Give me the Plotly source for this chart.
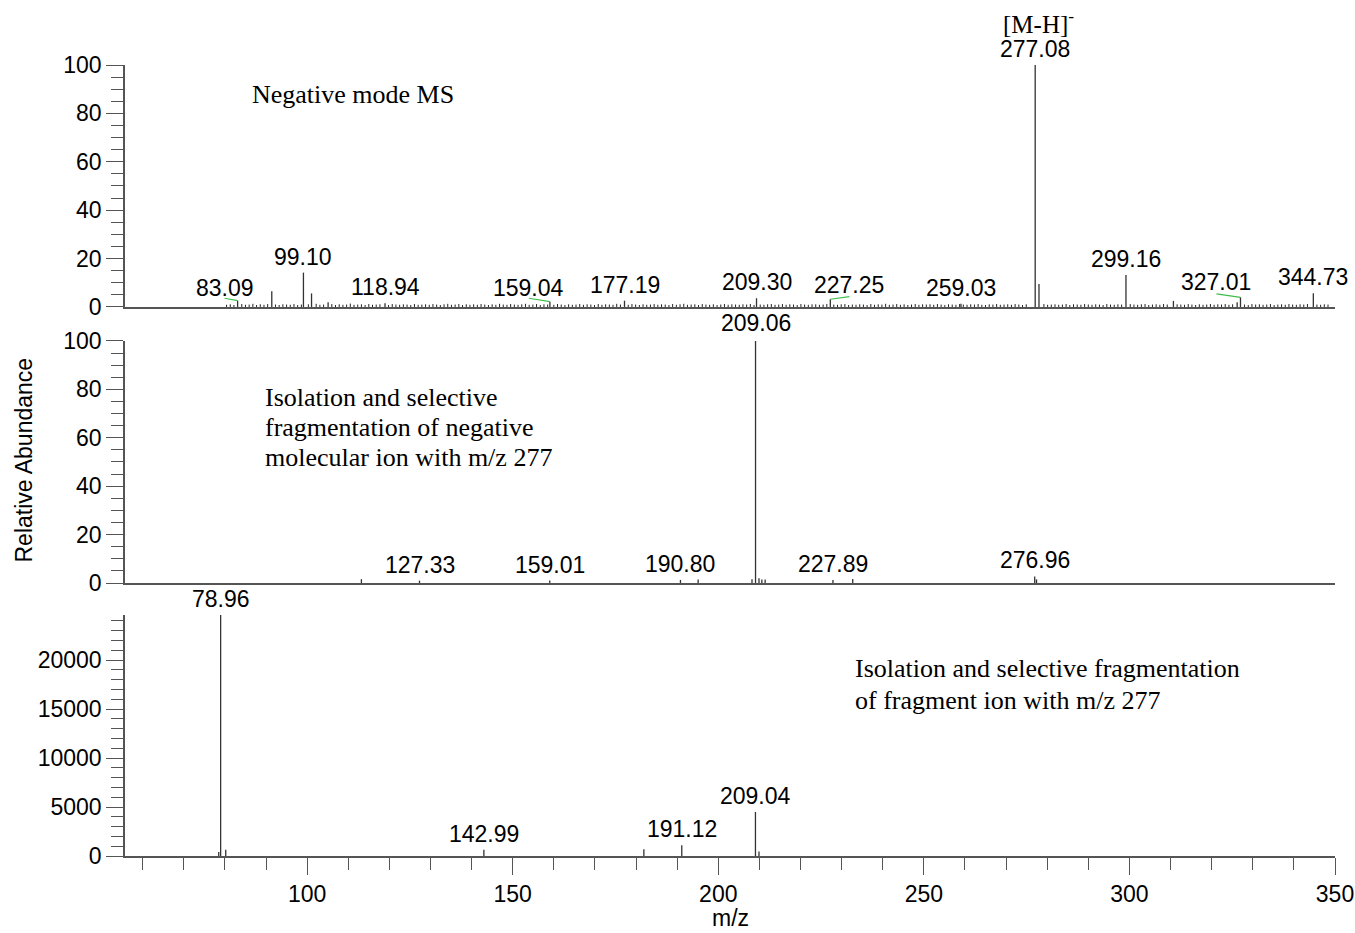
import plotly.graph_objects as go

# ---------------- data ----------------
# Full-scan negative mode spectrum: resolved peaks (m/z, relative abundance)
ms1_mz = [83.09, 91.4, 99.10, 101.07, 105.1, 118.94, 159.04, 177.19, 209.30,
          227.25, 259.03, 277.08, 278.0, 299.16, 310.7, 326.2, 327.01, 344.73]
ms1_int = [2.6, 6.5, 14.2, 5.6, 2.0, 1.5, 2.2, 2.6, 3.6,
           3.2, 1.3, 100.0, 9.5, 13.2, 2.5, 2.0, 4.0, 5.7]
ms1_labeled = [83.09, 99.10, 118.94, 159.04, 177.19, 209.30, 227.25,
               259.03, 277.08, 299.16, 327.01, 344.73]

# Full-scan baseline noise peaks
noise_mz = [
    80.4, 81.3, 82.2, 84.1, 85.0, 85.9, 86.8, 87.7, 88.6, 89.5,
    90.4, 92.3, 93.2, 94.1, 95.0, 95.9, 96.8, 97.7, 98.6, 100.3,
    102.2, 103.1, 104.0, 106.0, 106.9, 107.8, 108.7, 109.6, 110.5, 111.4,
    112.3, 113.2, 114.1, 115.0, 115.9, 116.8, 117.7, 119.8, 120.7, 121.6,
    122.5, 123.4, 124.3, 125.2, 126.1, 127.0, 127.9, 128.8, 129.7, 130.6,
    131.5, 132.4, 133.3, 134.2, 135.1, 136.0, 136.9, 137.8, 138.7, 139.6,
    140.5, 141.4, 142.3, 143.2, 144.1, 145.0, 145.9, 146.8, 147.7, 148.6,
    149.5, 150.4, 151.3, 152.2, 153.1, 154.0, 154.9, 155.8, 156.7, 157.6,
    158.5, 160.0, 160.9, 161.8, 162.7, 163.6, 164.5, 165.4, 166.3, 167.2,
    168.1, 169.0, 169.9, 170.8, 171.7, 172.6, 173.5, 174.4, 175.3, 176.2,
    178.1, 179.0, 179.9, 180.8, 181.7, 182.6, 183.5, 184.4, 185.3, 186.2,
    187.1, 188.0, 188.9, 189.8, 190.7, 191.6, 192.5, 193.4, 194.3, 195.2,
    196.1, 197.0, 197.9, 198.8, 199.7, 200.6, 201.5, 202.4, 203.3, 204.2,
    205.1, 206.0, 206.9, 207.8, 208.7, 210.2, 211.1, 212.0, 212.9, 213.8,
    214.7, 215.6, 216.5, 217.4, 218.3, 219.2, 220.1, 221.0, 221.9, 222.8,
    223.7, 224.6, 225.5, 226.4, 228.1, 229.0, 229.9, 230.8, 231.7, 232.6,
    233.5, 234.4, 235.3, 236.2, 237.1, 238.0, 238.9, 239.8, 240.7, 241.6,
    242.5, 243.4, 244.3, 245.2, 246.1, 247.0, 247.9, 248.8, 249.7, 250.6,
    251.5, 252.4, 253.3, 254.2, 255.1, 256.0, 256.9, 257.8, 258.7, 259.6,
    260.5, 261.4, 262.3, 263.2, 264.1, 265.0, 265.9, 266.8, 267.7, 268.6,
    269.5, 270.4, 271.3, 272.2, 273.1, 274.0, 274.9, 279.2, 280.1, 281.0,
    281.9, 282.8, 283.7, 284.6, 285.5, 286.4, 287.3, 288.2, 289.1, 290.0,
    290.9, 291.8, 292.7, 293.6, 294.5, 295.4, 296.3, 297.2, 298.1, 300.2,
    301.1, 302.0, 302.9, 303.8, 304.7, 305.6, 306.5, 307.4, 308.3, 309.2,
    311.6, 312.5, 313.4, 314.3, 315.2, 316.1, 317.0, 317.9, 318.8, 319.7,
    320.6, 321.5, 322.4, 323.3, 324.2, 325.1, 328.0, 328.9, 329.8, 330.7,
    331.6, 332.5, 333.4, 334.3, 335.2, 336.1, 337.0, 337.9, 338.8, 339.7,
    340.6, 341.5, 342.4, 343.3, 345.6, 346.5, 347.4, 348.3,
]
noise_int = [
    0.9, 1.1, 0.8, 1.2, 0.9, 1.0, 1.3, 0.8, 1.1, 0.9,
    1.2, 1.0, 0.8, 1.1, 1.0, 0.9, 1.2, 0.8, 1.0, 1.1,
    1.3, 0.9, 1.0, 1.2, 0.8, 1.1, 0.9, 1.0, 1.4, 0.9,
    1.0, 1.1, 0.8, 1.2, 0.9, 1.0, 1.1, 0.8, 1.2, 1.0,
    0.9, 1.1, 1.0, 0.8, 1.2, 0.9, 1.0, 1.1, 0.9, 1.2,
    1.0, 0.8, 1.1, 1.3, 0.9, 1.0, 1.2, 0.8, 1.1, 0.9,
    1.1, 0.9, 1.2, 1.0, 0.8, 1.1, 0.9, 1.3, 1.0, 0.9,
    1.2, 1.0, 0.9, 1.1, 1.3, 0.9, 1.0, 1.2, 0.8, 1.1,
    1.0, 0.9, 1.2, 1.0, 0.8, 1.1, 0.9, 1.0, 1.2, 0.9,
    1.1, 1.0, 0.8, 1.2, 0.9, 1.1, 1.0, 0.9, 1.3, 1.0,
    0.9, 1.2, 1.0, 0.8, 1.1, 0.9, 1.0, 1.2, 0.9, 1.1,
    1.0, 0.8, 1.2, 0.9, 1.1, 1.3, 0.9, 1.0, 1.1, 0.8,
    1.2, 1.0, 0.9, 1.1, 0.8, 1.0, 1.2, 0.9, 1.1, 1.0,
    0.9, 1.1, 1.0, 1.2, 0.8, 1.0, 0.9, 1.1, 1.2, 0.9,
    1.0, 1.2, 0.9, 1.1, 1.0, 0.8, 1.2, 1.0, 0.9, 1.1,
    1.1, 0.9, 1.0, 1.2, 1.0, 0.9, 1.1, 1.2, 0.8, 1.0,
    0.9, 1.1, 1.0, 0.8, 1.2, 0.9, 1.1, 1.0, 1.3, 0.9,
    1.0, 1.2, 0.9, 1.1, 0.8, 1.0, 1.2, 0.9, 1.1, 1.0,
    1.1, 0.9, 1.2, 1.0, 0.8, 1.1, 1.0, 0.9, 1.2, 1.0,
    0.9, 1.1, 1.0, 1.2, 0.9, 0.8, 1.1, 1.0, 1.2, 0.9,
    1.0, 1.1, 0.9, 1.2, 1.0, 0.8, 1.1, 1.2, 0.9, 1.0,
    1.1, 0.9, 1.0, 1.2, 0.8, 1.1, 1.0, 0.9, 1.2, 1.0,
    0.9, 1.1, 1.0, 0.8, 1.2, 1.0, 0.9, 1.1, 1.0, 1.2,
    1.0, 0.9, 1.1, 1.2, 0.8, 1.0, 1.1, 0.9, 1.2, 1.0,
    1.1, 1.0, 0.9, 1.2, 1.0, 0.8, 1.1, 0.9, 1.0, 1.2,
    0.9, 1.1, 1.0, 1.2, 0.9, 1.1, 1.0, 0.8, 1.2, 1.0,
    1.1, 0.9, 1.0, 1.2, 0.8, 1.0, 1.1, 0.9, 1.2, 1.0,
    0.9, 1.1, 1.0, 1.2, 1.0, 0.9, 1.1, 1.0,
]

# MS2 of m/z 277
ms2_mz = [113.2, 127.33, 159.01, 190.80, 195.1, 208.2, 209.06, 209.9,
          210.6, 211.4, 227.89, 232.7, 276.96, 277.4]
ms2_int = [1.6, 1.0, 1.0, 1.3, 1.5, 1.6, 100.0, 2.0,
           1.5, 1.5, 1.2, 1.7, 2.7, 1.5]
ms2_labeled = [127.33, 159.01, 190.80, 209.06, 227.89, 276.96]

# MS3 of fragment ion (absolute intensity)
ms3_mz = [78.5, 78.96, 80.2, 142.99, 181.9, 191.12, 209.04, 209.9]
ms3_int = [400, 24600, 650, 650, 700, 1100, 4500, 450]
ms3_labeled = [78.96, 142.99, 191.12, 209.04]

x_ticks = [100, 150, 200, 250, 300, 350]
rel_ticks = [0, 20, 40, 60, 80, 100]
abs_ticks = [0, 5000, 10000, 15000, 20000]

# ---------------- layout constants ----------------
W, H = 1355, 933
M_L, M_R, M_T, M_B = 125, 20, 65, 77
X_RANGE = [55.7, 350]
DOM1 = [0.6941, 1.0]
DOM2 = [0.3451, 0.6511]
DOM3 = [0.0, 0.3047]
PLOT_W = W - M_L - M_R
PLOT_H = H - M_T - M_B
PX_PER_MZ = PLOT_W / (X_RANGE[1] - X_RANGE[0])
PX_PER_REL1 = PLOT_H * (DOM1[1] - DOM1[0]) / 100.0

SANS = "Arial, Liberation Sans, Helvetica, sans-serif"
SERIF = "Times New Roman, Liberation Serif, Times, serif"
AXIS_COL = "#555555"
PEAK_COL = "#333333"
LEADER_COL = "#3cbf4a"
LBL_SIZE = 23

# labels that sit off their peak, joined by a leader: (x shift px, y shift px, leader rise px)
OFFSET_LABELS = {
    83.09: (-13, -3, 2.4),
    159.04: (-21, -2, 3.4),
    227.25: (19, -1.5, 2.6),
    327.01: (-24, -1, 3.4),
}
# per-label extra vertical lift (px)
LIFT = {209.06: 2}


def sticks(mz, inten):
    xs, ys = [], []
    for m, h in zip(mz, inten):
        xs += [m, m, None]
        ys += [0, h, None]
    return xs, ys


fig = go.Figure()

# noise comb (top panel)
nx, ny = sticks(noise_mz, noise_int)
fig.add_trace(go.Scatter(x=nx, y=ny, mode="lines", xaxis="x", yaxis="y",
                         line=dict(color="#222222", width=1), hoverinfo="skip"))

for mz, inten, xa, ya in [(ms1_mz, ms1_int, "x", "y"),
                          (ms2_mz, ms2_int, "x2", "y2"),
                          (ms3_mz, ms3_int, "x3", "y3")]:
    sx, sy = sticks(mz, inten)
    fig.add_trace(go.Scatter(x=sx, y=sy, mode="lines", xaxis=xa, yaxis=ya,
                             line=dict(color=PEAK_COL, width=1.3), hoverinfo="skip"))

annotations = []


def add_labels(mz, inten, labeled, xref, yref):
    lookup = dict(zip(mz, inten))
    for m in labeled:
        h = lookup[m]
        xs, ys, rise = OFFSET_LABELS.get(m, (0, 0, None))
        annotations.append(dict(
            x=m, y=h, xref=xref, yref=yref, text=f"{m:.2f}", showarrow=False,
            xanchor="center", yanchor="bottom", xshift=xs,
            yshift=1 + ys + LIFT.get(m, 0),
            font=dict(family=SANS, size=LBL_SIZE, color="black")))
        if rise is not None:
            # leader from peak top to the displaced label
            fig.add_trace(go.Scatter(
                x=[m, m + xs / PX_PER_MZ], y=[h, h + rise / PX_PER_REL1],
                mode="lines", xaxis="x", yaxis="y",
                line=dict(color=LEADER_COL, width=1.2), hoverinfo="skip"))


add_labels(ms1_mz, ms1_int, ms1_labeled, "x", "y")
add_labels(ms2_mz, ms2_int, ms2_labeled, "x2", "y2")
add_labels(ms3_mz, ms3_int, ms3_labeled, "x3", "y3")

# precursor annotation above the base peak
annotations.append(dict(
    x=277.08, y=100, xref="x", yref="y", text="[M-H]<sup>-</sup>", showarrow=False,
    xanchor="center", yanchor="bottom", yshift=25, xshift=3,
    font=dict(family=SERIF, size=25, color="black")))


def paper_y(px):
    return (H - M_B - px) / PLOT_H


def paper_x(px):
    return (px - M_L) / PLOT_W


def serif_line(text, x_px, base_px):
    annotations.append(dict(
        x=paper_x(x_px), y=paper_y(base_px + 6.6), xref="paper", yref="paper",
        text=text, showarrow=False, xanchor="left", yanchor="bottom",
        font=dict(family=SERIF, size=26, color="black")))


serif_line("Negative mode MS", 250, 104)
serif_line("Isolation and selective", 262.7, 407)
serif_line("fragmentation of negative", 262.7, 437)
serif_line("molecular ion with m/z 277", 262.7, 467)
serif_line("Isolation and selective fragmentation", 853.3, 678.3)
serif_line("of fragment ion with m/z 277", 853.3, 710)

# axis titles
annotations.append(dict(
    x=paper_x(23), y=paper_y(460.5), xref="paper", yref="paper",
    text="Relative Abundance", textangle=-90, showarrow=False,
    xanchor="center", yanchor="middle",
    font=dict(family=SANS, size=23, color="black")))
annotations.append(dict(
    x=0.5, y=paper_y(918), xref="paper", yref="paper", text="m/z", showarrow=False,
    xanchor="center", yanchor="middle",
    font=dict(family=SANS, size=23, color="black")))

tickfont = dict(family=SANS, size=LBL_SIZE, color="black")

xbase = dict(range=X_RANGE, domain=[0, 1], showgrid=False, zeroline=False,
             showline=True, linecolor=AXIS_COL, linewidth=1.5, automargin=False)
ybase = dict(showgrid=False, zeroline=False, showline=True, linecolor=AXIS_COL,
             linewidth=1.5, ticks="outside", ticklen=17, tickwidth=1,
             tickcolor=AXIS_COL, tickfont=tickfont, automargin=False)

fig.update_layout(
    width=W, height=H,
    margin=dict(l=M_L, r=M_R, t=M_T, b=M_B, autoexpand=False),
    paper_bgcolor="white", plot_bgcolor="white", showlegend=False,
    xaxis=dict(**xbase, anchor="y", ticks="", showticklabels=False),
    xaxis2=dict(**xbase, anchor="y2", ticks="", showticklabels=False),
    xaxis3=dict(**xbase, anchor="y3", ticks="outside", ticklen=17, tickwidth=1,
                tickcolor=AXIS_COL, tickvals=x_ticks, tickfont=tickfont,
                ticklabeloverflow="allow",
                minor=dict(dtick=10, tick0=0, ticks="outside", ticklen=12,
                           tickcolor=AXIS_COL, tickwidth=1, showgrid=False)),
    yaxis=dict(**ybase, domain=DOM1, anchor="x", range=[0, 100], tickvals=rel_ticks,
               minor=dict(dtick=5, ticks="outside", ticklen=12, tickcolor=AXIS_COL,
                          tickwidth=1, showgrid=False)),
    yaxis2=dict(**ybase, domain=DOM2, anchor="x2", range=[0, 100], tickvals=rel_ticks,
                minor=dict(dtick=5, ticks="outside", ticklen=12, tickcolor=AXIS_COL,
                           tickwidth=1, showgrid=False)),
    yaxis3=dict(**ybase, domain=DOM3, anchor="x3", range=[0, 24600], tickvals=abs_ticks,
                tickformat="d",
                minor=dict(dtick=1000, tick0=0, ticks="outside", ticklen=12,
                           tickcolor=AXIS_COL, tickwidth=1, showgrid=False)),
    annotations=annotations,
)

fig.write_html("out.html", config={"displayModeBar": False})
